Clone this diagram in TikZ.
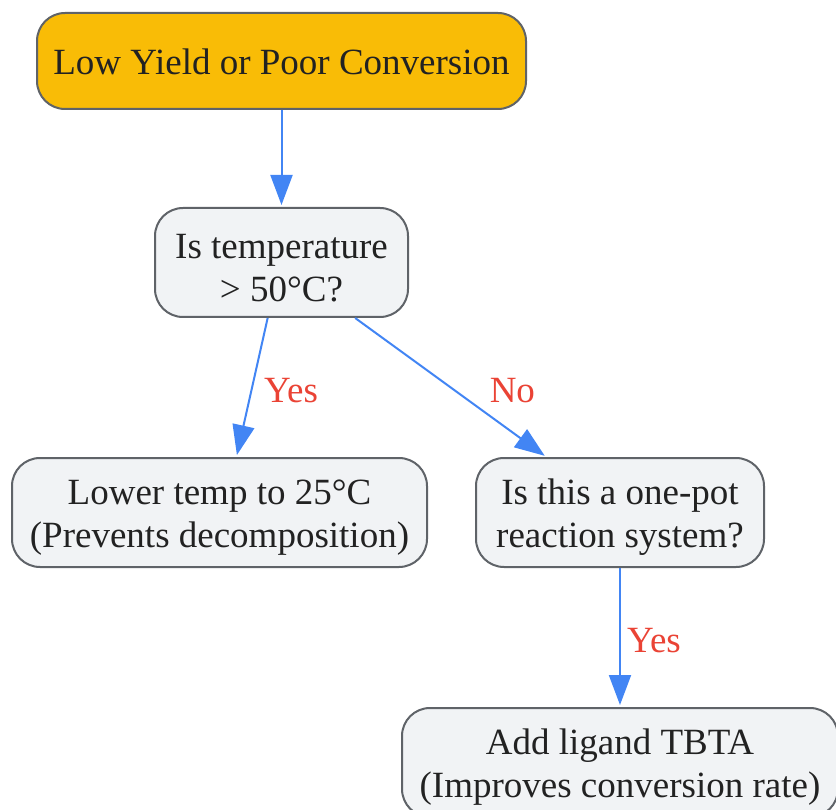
\documentclass[tikz,border=0pt]{standalone}
\usepackage{fontspec}
\setmainfont{Liberation Serif}
\usetikzlibrary{arrows.meta}
\definecolor{startfill}{HTML}{F9BC06}
\definecolor{boxfill}{HTML}{F1F3F5}
\definecolor{boxline}{HTML}{5F6368}
\definecolor{flowblue}{HTML}{4285F4}
\definecolor{labelred}{HTML}{EA4335}
\definecolor{textgray}{HTML}{222222}

\begin{document}
\begin{tikzpicture}[x=1pt, y=-1pt,
          box/.style={draw=boxline, line width=2pt, fill=boxfill, rounded corners=28pt, align=center, text=textgray, font=\fontsize{37}{43}\selectfont, inner sep=0pt, minimum height=109pt},
          twoline/.style={box, execute at begin node={\rule{0pt}{78pt}}},
          arrow/.style={-{Triangle[length=30pt, width=22pt]}, draw=flowblue, line width=2pt, shorten >=2pt},
          answer/.style={text=labelred, font=\fontsize{37}{43}\selectfont, inner sep=0pt, yshift=-3pt}
        ]
          \useasboundingbox (0,0) rectangle (836,810);
          \clip (0,0) rectangle (836,810);

          % Problem
          \node[box, fill=startfill, minimum width=489pt, minimum height=96pt, execute at begin node={\rule{0pt}{28pt}}] (start) at (281.5,61) {Low Yield or Poor Conversion};

          % First check
          \node[twoline, minimum width=253pt] (temp) at (281.5,262.5) {Is temperature\\ > 50°C?};

          % Outcomes
          \node[twoline, minimum width=415pt] (lower) at (219.5,512.5) {Lower temp to 25°C\\(Prevents decomposition)};
          \node[twoline, minimum width=288pt] (onepot) at (620,512.5) {Is this a one-pot\\reaction system?};
          \node[twoline, minimum width=436pt] (ligand) at (620,762.5) {Add ligand TBTA\\(Improves conversion rate)};

          % Connections
          \draw[arrow] (start) -- (temp);
          \draw[arrow] (temp.256) -- (lower.73) node[answer, midway, anchor=west, xshift=11pt] {Yes};
          \draw[arrow] (temp.-37) -- (onepot.143) node[answer, midway, anchor=west, xshift=38pt] {No};
          \draw[arrow] (onepot) -- (ligand) node[answer, midway, anchor=west, xshift=6pt] {Yes};
        \end{tikzpicture}
\end{document}
